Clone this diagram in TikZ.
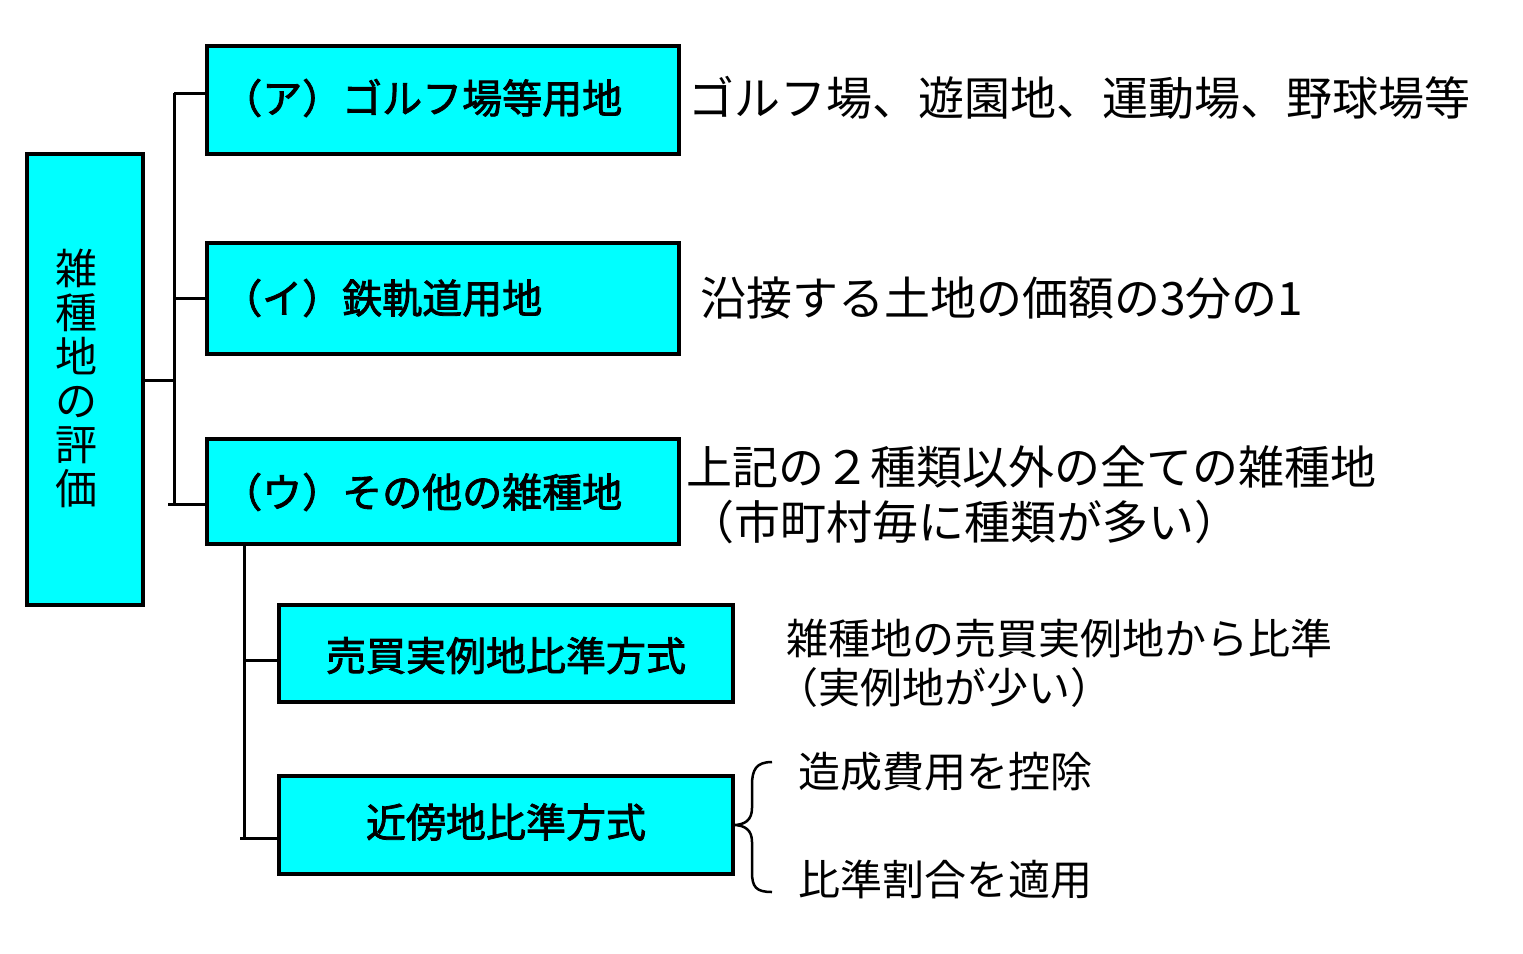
\documentclass[tikz,border=0pt]{standalone}
\usepackage{fontspec}
\setmainfont{Noto Sans CJK JP}
\newfontfamily\boxfont[FakeBold=2]{Noto Sans CJK JP}
\definecolor{aqua}{RGB}{0,255,255}
\begin{document}
\begin{tikzpicture}[x=1pt,y=-1pt,
  box/.style={draw=black,line width=4pt,fill=aqua,inner sep=0pt,anchor=north west},
  conn/.style={draw=black,line width=3pt},
  btext/.style={font=\boxfont\fontsize{40}{44}\selectfont,inner sep=0pt},
  rtext/.style={font=\fontsize{46}{55}\selectfont,inner sep=0pt,anchor=west,align=left},
  stext/.style={font=\fontsize{42}{50}\selectfont,inner sep=0pt,anchor=west,align=left}]
\useasboundingbox[fill=white] (0,0) rectangle (1523,953);
% boxes
\node[box,minimum width=116pt,minimum height=451pt] (main) at (25,152) {};
\node[font=\fontsize{42}{44}\selectfont,align=center,inner sep=0pt] (maint) at (76,378) {雑\\種\\地\\の\\評\\価};
\node[box,minimum width=472pt,minimum height=108pt] (a) at (205,44) {};
\node[box,minimum width=472pt,minimum height=111pt] (i) at (205,241) {};
\node[box,minimum width=472pt,minimum height=105pt] (u) at (205,437) {};
\node[box,minimum width=454pt,minimum height=97pt] (s) at (277,603) {};
\node[box,minimum width=454pt,minimum height=98pt] (k) at (277,774) {};
% box texts
\node[btext,anchor=west] (at) at (222,98) {（ア）ゴルフ場等用地};
\node[btext,anchor=west] (it) at (222,298) {（イ）鉄軌道用地};
\node[btext,anchor=west] (ut) at (222,492) {（ウ）その他の雑種地};
\node[btext] (st) at ([yshift=-2pt]s.center) {売買実例地比準方式};
\node[btext] (kt) at ([yshift=3pt]k.center) {近傍地比準方式};
% connectors
\coordinate (j1) at (174,380);
\coordinate (jt) at (174,93);
\coordinate (jb) at (174,504);
\draw[conn] (main.east |- j1) -- (j1);
\draw[conn] (jt) -- (jb);
\draw[conn] (jt) -- (a.west |- jt);
\draw[conn] (174,298) -- (i.west |- 0,298);
\draw[conn] (168,504) -- (u.west |- jb);
\coordinate (v1) at (244,542);
\coordinate (v2) at (244,840);
\draw[conn] (u.south -| v1) -- (v2);
\draw[conn] (244,660) -- (s.west |- 0,660);
\draw[conn] (240,838) -- (k.west |- 0,838);
% right texts
\node[rtext] (ra) at (688,98) {ゴルフ場、遊園地、運動場、野球場等};
\node[rtext] (ri) at (700,298) {沿接する土地の価額の3分の1};
\node[rtext] (ru1) at (686,467) {上記の２種類以外の全ての雑種地};
\node[rtext] (ru2) at (688,522) {（市町村毎に種類が多い）};
\node[stext] (rs1) at (786,638) {雑種地の売買実例地から比準};
\node[stext] (rs2) at (776,688) {（実例地が少い）};
\node[stext] (rk1) at (798,772) {造成費用を控除};
\node[stext] (rk2) at (798,880) {比準割合を適用};
% brace
\coordinate (bt) at (772,762);
\coordinate (bb) at (772,892);
\coordinate (tip) at (733,825);
\draw[line width=2.5pt] (bt) .. controls (756,762) and (752,770) .. (752,785)
  -- (752,808) .. controls (752,820) and (745,825) .. (tip)
  .. controls (745,825) and (752,830) .. (752,842)
  -- (752,872) .. controls (752,887) and (756,892) .. (bb);
\end{tikzpicture}
\end{document}
